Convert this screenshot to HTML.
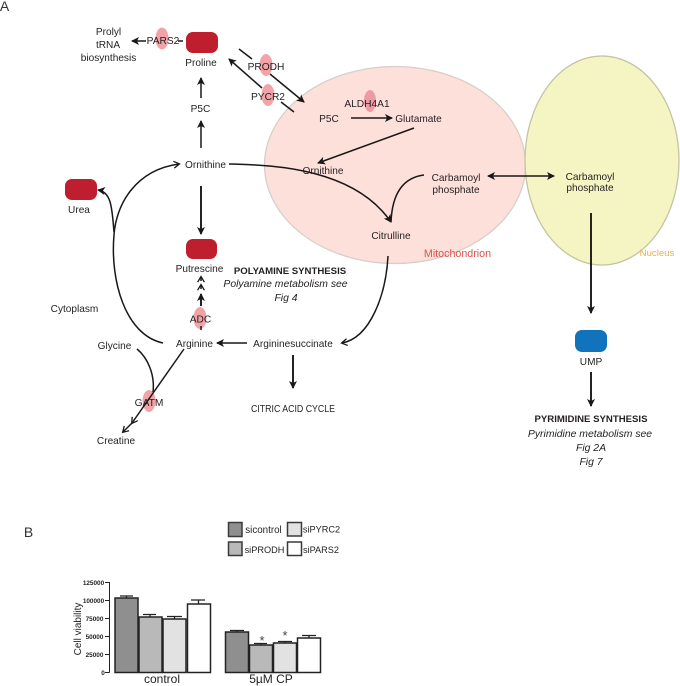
<!DOCTYPE html>
<html><head><meta charset="utf-8"><style>
html,body{margin:0;padding:0;background:#fff}
svg{display:block}
text{font-family:"Liberation Sans",sans-serif;font-size:10.1px;fill:#231f20;text-anchor:middle}
.e{font-size:10.2px}
.b{font-weight:bold;font-size:9.6px}
.i{font-style:italic;font-size:10.4px}
.l{fill:none;stroke:#1a1718;stroke-width:1.5}
.t{stroke-width:1.9}
.o{fill:#f2a3a8}
.r{fill:#be1e2d}
.ax{font-size:6.400px;font-weight:bold}
</style></head><body>
<svg width="680" height="686" viewBox="0 0 680 686" xmlns="http://www.w3.org/2000/svg">
<defs>
<marker id="a" markerWidth="9" markerHeight="8" refX="7" refY="4" orient="auto" markerUnits="userSpaceOnUse"><path d="M0 0L8 4L0 8L2 4Z" fill="#1a1718"/></marker>
<marker id="s" markerWidth="9" markerHeight="8" refX="7" refY="4" orient="auto-start-reverse" markerUnits="userSpaceOnUse"><path d="M0 0L8 4L0 8L2 4Z" fill="#1a1718"/></marker>
<marker id="v" markerWidth="8" markerHeight="8" refX="6" refY="4" orient="auto" markerUnits="userSpaceOnUse"><path d="M.8 .6L6.500 4L.8 7.400" fill="none" stroke="#1a1718" stroke-width="1.300"/></marker>
</defs>

<ellipse cx="395" cy="165" rx="130.500" ry="98.500" fill="#fde0d9" stroke="#d6cfc9" stroke-width="1.300"/>
<ellipse cx="602" cy="160.500" rx="77" ry="104.500" fill="#f5f5c4" stroke="#c4c3a2" stroke-width="1.300"/>

<text x="4.500" y="11" style="font-size:14px;fill:#333">A</text>
<text x="28.500" y="537" style="font-size:14px;fill:#333">B</text>

<!-- enzyme ovals -->
<ellipse cx="162" cy="38.500" rx="6.500" ry="11" class="o"/>
<ellipse cx="266" cy="65" rx="6.500" ry="11" class="o"/>
<ellipse cx="268" cy="95" rx="6.500" ry="11" class="o"/>
<ellipse cx="370" cy="101" rx="6" ry="11" fill="#ee9aa5"/>
<ellipse cx="200" cy="318" rx="6.500" ry="11" class="o"/>
<ellipse cx="149" cy="401" rx="6.500" ry="11" class="o"/>

<!-- metabolite blocks -->
<rect x="186" y="32" width="32" height="21" rx="7" class="r"/>
<rect x="65" y="179" width="32" height="21" rx="7" class="r"/>
<rect x="186" y="239" width="31" height="20" rx="7" class="r"/>
<rect x="575" y="330" width="32" height="22" rx="7" fill="#1273bd"/>

<!-- connectors -->
<path class="l" d="M146 41H132" marker-end="url(#a)"/>
<path class="l" d="M178 41H183"/>
<path class="l" d="M239 49L252 59"/>
<path class="l" d="M270 74L304 102" marker-end="url(#a)"/>
<path class="l" d="M262 88L229 59" marker-end="url(#a)"/>
<path class="l" d="M281 102L294 112"/>
<path class="l" d="M201 98V78" marker-end="url(#a)"/>
<path class="l" d="M201 148V121" marker-end="url(#a)"/>
<path class="l t" d="M201 186V234" marker-end="url(#a)"/>
<path class="l" d="M229 164C280 165 355 170 391 222" marker-end="url(#a)"/>
<path class="l" d="M424 175C400 178 392 198 391 222"/>
<path class="l" d="M351 118H392" marker-end="url(#a)"/>
<path class="l" d="M414 128L318 163" marker-end="url(#a)"/>
<path class="l" d="M488 176H554" marker-start="url(#s)" marker-end="url(#s)"/>
<path class="l t" d="M591 213V313" marker-end="url(#a)"/>
<path class="l t" d="M591 372V406" marker-end="url(#a)"/>
<path class="l" d="M388 256C386 295 370 338 342 343" marker-end="url(#v)"/>
<path class="l" d="M247 343H217" marker-end="url(#a)"/>
<path class="l t" d="M293 355V388" marker-end="url(#a)"/>
<path class="l" d="M163 343C125 335 110 280 114 235C116 205 135 170 179 164" marker-end="url(#v)"/>
<path class="l" d="M114 232C112 210 112 192 98 190" marker-end="url(#a)"/>
<path class="l" d="M201 330V326"/>
<path class="l t" d="M201 306V294" marker-end="url(#a)"/>
<path class="l" d="M201 289V285" marker-end="url(#v)"/>
<path class="l" d="M201 281V277" marker-end="url(#v)"/>
<path class="l" d="M137 349C148 358 155 375 153 392"/>
<path class="l" d="M184 349L132 423" marker-end="url(#v)"/>
<path class="l" d="M132 423L123 432" marker-end="url(#v)"/>

<!-- labels -->
<text x="108.500" y="35">Prolyl</text>
<text x="108" y="48">tRNA</text>
<text x="108.500" y="61">biosynthesis</text>
<text x="163" y="44" class="e">PARS2</text>
<text x="201" y="66">Proline</text>
<text x="266" y="70" class="e">PRODH</text>
<text x="268" y="100" class="e">PYCR2</text>
<text x="329" y="122">P5C</text>
<text x="200.500" y="112">P5C</text>
<text x="367" y="107" class="e">ALDH4A1</text>
<text x="418.500" y="122">Glutamate</text>
<text x="205.500" y="168">Ornithine</text>
<text x="323" y="174">Ornithine</text>
<text x="456" y="181">Carbamoyl</text>
<text x="456" y="193">phosphate</text>
<text x="590" y="180">Carbamoyl</text>
<text x="590" y="191">phosphate</text>
<text x="391" y="239">Citrulline</text>
<text x="457.500" y="257" style="fill:#d9534f;font-size:10.700px">Mitochondrion</text>
<text x="657" y="256" style="fill:#e8b04a;font-size:9.600px">Nucleus</text>
<text x="79" y="213">Urea</text>
<text x="199.500" y="272">Putrescine</text>
<text x="290" y="274" class="b">POLYAMINE SYNTHESIS</text>
<text x="285.500" y="287" class="i">Polyamine metabolism see</text>
<text x="286" y="301" class="i">Fig 4</text>
<text x="74.500" y="312">Cytoplasm</text>
<text x="200.500" y="322.500" class="e">ADC</text>
<text x="194.500" y="347">Arginine</text>
<text x="293" y="347">Argininesuccinate</text>
<text x="114.500" y="349">Glycine</text>
<text x="149" y="406" class="e">GATM</text>
<text x="116" y="444">Creatine</text>
<text x="293" y="412" textLength="84" lengthAdjust="spacingAndGlyphs">CITRIC ACID CYCLE</text>
<text x="591" y="365">UMP</text>
<text x="591" y="422" class="b">PYRIMIDINE SYNTHESIS</text>
<text x="590" y="437" class="i">Pyrimidine metabolism see</text>
<text x="591" y="451" class="i">Fig 2A</text>
<text x="591" y="465" class="i">Fig 7</text>

<!-- legend -->
<g stroke="#3a3a3a" stroke-width="1.500">
<rect x="228.500" y="522.500" width="13.500" height="14" fill="#8f8f8f"/>
<rect x="228.500" y="542" width="13.500" height="13.500" fill="#b9b9b9"/>
<rect x="287.500" y="522.500" width="14" height="13.500" fill="#e2e2e2"/>
<rect x="287.500" y="542" width="14" height="13.500" fill="#fff"/>
</g>
<text x="263.500" y="533" style="font-size:9.800px">sicontrol</text>
<text x="264.500" y="553" style="font-size:9.200px">siPRODH</text>
<text x="321.500" y="532.500" style="font-size:9.200px">siPYRC2</text>
<text x="321" y="553" style="font-size:9.200px">siPARS2</text>

<!-- chart -->
<path d="M109.500 582V672.500M105 582.500H109.500M105 600.500H109.500M105 618.500H109.500M105 636.500H109.500M105 654.500H109.500M105 672.500H109.500" fill="none" stroke="#222" stroke-width="1"/>
<text x="93.500" y="585" class="ax">125000</text>
<text x="93.500" y="603" class="ax">100000</text>
<text x="94.500" y="621" class="ax">75000</text>
<text x="94.500" y="639" class="ax">50000</text>
<text x="94.500" y="657" class="ax">25000</text>
<text x="103" y="675" class="ax">0</text>
<text transform="translate(81 629) rotate(-90)" style="font-size:10px">Cell viability</text>
<path d="M126.500 598V596M120 596H133M150 617V614.500M143 614.500H156M174.500 619V616.500M167 616.500H182M198.500 604V600M191 600H205M237 632V630.500M230 630.500H244M261 645V643.500M254 643.500H267M285 643V641.500M278 641.500H292M309 638V635.500M302 635.500H316" fill="none" stroke="#222" stroke-width="1.300"/>
<g stroke="#222" stroke-width="1.500">
<rect x="115" y="598" width="23" height="74.500" fill="#8f8f8f"/>
<rect x="139" y="617" width="23" height="55.500" fill="#b9b9b9"/>
<rect x="163" y="619" width="23" height="53.500" fill="#e2e2e2"/>
<rect x="187.500" y="604" width="23" height="68.500" fill="#fff"/>
<rect x="225.500" y="632" width="23" height="40.500" fill="#8f8f8f"/>
<rect x="249.500" y="645" width="23" height="27.500" fill="#b9b9b9"/>
<rect x="273.500" y="643" width="23" height="29.500" fill="#e2e2e2"/>
<rect x="297.500" y="638" width="23" height="34.500" fill="#fff"/>
</g>
<text x="262" y="645" style="font-size:13px;fill:#444">*</text>
<text x="285" y="640" style="font-size:13px;fill:#444">*</text>
<text x="162" y="683" style="font-size:12px">control</text>
<text x="271" y="683" style="font-size:12px">5µM CP</text>
</svg>
</body></html>
